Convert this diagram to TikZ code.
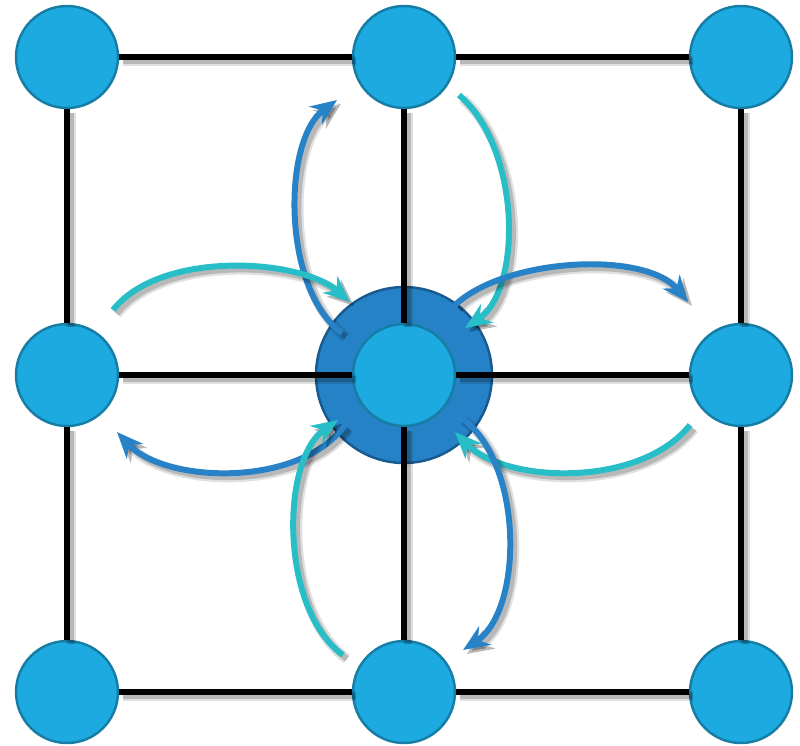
\documentclass[tikz,border=0pt]{standalone}
\usepackage{tikz}
\usetikzlibrary{arrows.meta}

\definecolor{siteblue}{RGB}{29,170,225}
\definecolor{siteedge}{RGB}{22,125,165}
\definecolor{hubblue}{RGB}{38,130,198}
\definecolor{hubedge}{RGB}{25,90,145}
\definecolor{hopcyan}{RGB}{40,190,200}
\definecolor{hopblue}{RGB}{40,130,200}

\begin{document}
\begin{tikzpicture}[x=0.02cm, y=-0.02cm,
    site/.style={circle, draw=siteedge, fill=siteblue, line width=1.4pt, minimum size=2.04cm, inner sep=0pt},
    hub/.style={circle, draw=hubedge, fill=hubblue, line width=1.4pt, minimum size=3.52cm, inner sep=0pt},
    shadowed/.style={preaction={draw=black, opacity=0.12, line width=#1+2.5pt, transform canvas={shift={(2.2pt,-2.2pt)}}},
                     preaction={draw=black, opacity=0.18, line width=#1, transform canvas={shift={(2.2pt,-2.2pt)}}}},
    bond/.style={line width=3.2pt, black, shadowed=3.2pt},
    hop/.style={line width=3.4pt, -{Stealth[length=15pt,width=12.5pt]}, shadowed=3.4pt},
]
\useasboundingbox (0,0) rectangle (800,745);

% central site with its neighbourhood
\node[hub] (hub) at (404,375) {};

% 3x3 lattice
\foreach \c/\x in {1/67,2/404,3/741} {
    \foreach \r/\y in {1/57,2/375,3/692} {
        \node[site] (s\r\c) at (\x,\y) {};
    }
}

\foreach \r in {1,2,3} {
    \draw[bond] (s\r1) -- (s\r2);
    \draw[bond] (s\r2) -- (s\r3);
    \draw[bond] (s1\r) -- (s2\r);
    \draw[bond] (s2\r) -- (s3\r);
}

% hop ends
\coordinate (tN) at (342,333);  \coordinate (hN) at (337,100);
\coordinate (tNe) at (459,95);  \coordinate (hNe) at (465,328);
\coordinate (tW) at (113,310);  \coordinate (hW) at (350,302);
\coordinate (tE) at (455,305);  \coordinate (hE) at (688,302);
\coordinate (tSw) at (345,425); \coordinate (hSw) at (117,432);
\coordinate (tSe) at (690,425); \coordinate (hSe) at (455,432);
\coordinate (tS) at (343,655);  \coordinate (hS) at (338,420);
\coordinate (tB) at (460,417);  \coordinate (hB) at (463,650);

% hops
\draw[hop, hopblue] (tN) .. controls (282,290) and (282,140) .. (hN);
\draw[hop, hopcyan] (tNe) .. controls (522,150) and (522,290) .. (hNe);
\draw[hop, hopcyan] (tW) .. controls (160,250) and (300,258) .. (hW);
\draw[hop, hopblue] (tE) .. controls (505,258) and (645,250) .. (hE);
\draw[hop, hopblue] (tSw) .. controls (300,488) and (165,484) .. (hSw);
\draw[hop, hopcyan] (tSe) .. controls (640,488) and (505,484) .. (hSe);
\draw[hop, hopcyan] (tS) .. controls (280,610) and (280,460) .. (hS);
\draw[hop, hopblue] (tB) .. controls (524,460) and (524,610) .. (hB);

\end{tikzpicture}
\end{document}
